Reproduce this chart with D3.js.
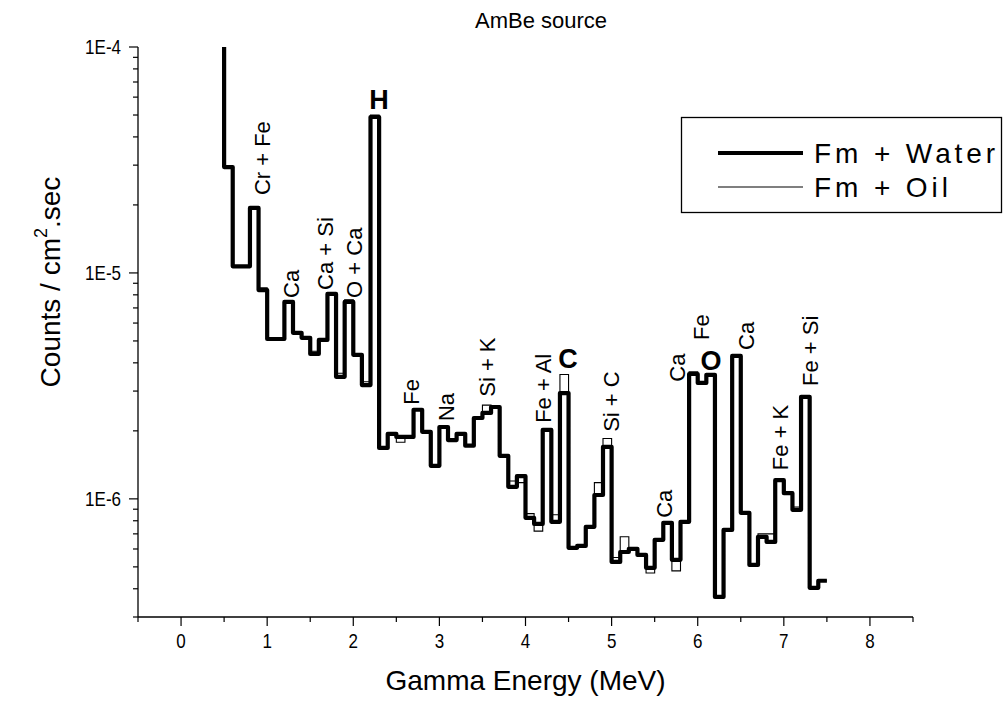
<!DOCTYPE html>
<html><head><meta charset="utf-8">
<script src="https://cdn.jsdelivr.net/npm/d3@7"></script>
<style>
body{margin:0;background:#fff;}
text{font-family:"Liberation Sans",Arial,sans-serif;fill:#000;}
</style></head>
<body><svg id="chart" width="1003" height="711"></svg>
<script>
// ---- data ----
const binStart = [0.4,0.5,0.6,0.7,0.8,0.9,1.0,1.1,1.2,1.3,1.4,1.5,1.6,1.7,1.8,1.9,2.0,2.1,2.2,2.3,2.4,2.5,2.6,2.7,2.8,2.9,3.0,3.1,3.2,3.3,3.4,3.5,3.6,3.7,3.8,3.9,4.0,4.1,4.2,4.3,4.4,4.5,4.6,4.7,4.8,4.9,5.0,5.1,5.2,5.3,5.4,5.5,5.6,5.7,5.8,5.9,6.0,6.1,6.2,6.3,6.4,6.5,6.6,6.7,6.8,6.9,7.0,7.1,7.2,7.3,7.4];
const lastEdge = 7.5;
const water = [1.5e-4,2.94e-5,1.07e-5,1.07e-5,1.94e-5,8.4e-6,5.1e-6,5.1e-6,7.44e-6,5.43e-6,5.16e-6,4.38e-6,5.05e-6,8.07e-6,3.47e-6,7.44e-6,4.34e-6,3.19e-6,4.9e-5,1.68e-6,1.94e-6,1.88e-6,1.88e-6,2.48e-6,1.98e-6,1.40e-6,2.08e-6,1.82e-6,1.94e-6,1.72e-6,2.28e-6,2.40e-6,2.55e-6,1.55e-6,1.13e-6,1.26e-6,8.24e-7,7.75e-7,2.02e-6,7.91e-7,2.94e-6,6.07e-7,6.19e-7,7.52e-7,1.04e-6,1.70e-6,5.26e-7,5.82e-7,6.01e-7,5.65e-7,4.95e-7,6.59e-7,7.83e-7,5.37e-7,7.91e-7,3.57e-6,3.26e-6,3.54e-6,3.68e-7,7.29e-7,4.29e-6,8.67e-7,5.10e-7,6.79e-7,6.45e-7,1.21e-6,1.06e-6,8.94e-7,2.83e-6,4.04e-7,4.34e-7];
const oil = [1.5e-4,2.94e-5,1.07e-5,1.07e-5,1.94e-5,8.6e-6,5.15e-6,5.1e-6,7.44e-6,5.43e-6,5.16e-6,4.5e-6,5.05e-6,8.15e-6,3.6e-6,7.6e-6,4.34e-6,3.3e-6,5.0e-5,1.70e-6,1.94e-6,1.78e-6,1.88e-6,2.48e-6,1.98e-6,1.40e-6,2.08e-6,1.82e-6,1.94e-6,1.72e-6,2.28e-6,2.6e-6,2.55e-6,1.55e-6,1.2e-6,1.18e-6,8.6e-7,7.2e-7,2.02e-6,8.5e-7,3.55e-6,6.1e-7,6.19e-7,7.52e-7,1.18e-6,1.85e-6,5.5e-7,6.8e-7,6.01e-7,5.65e-7,4.7e-7,6.59e-7,7.83e-7,4.8e-7,8.0e-7,3.65e-6,3.26e-6,3.54e-6,3.68e-7,7.29e-7,4.29e-6,8.67e-7,5.10e-7,7.0e-7,7.0e-7,1.21e-6,1.06e-6,9.2e-7,2.83e-6,4.04e-7,4.34e-7];
const seriesNames = ["Fm + Water","Fm + Oil"];
const xTicks = [0,1,2,3,4,5,6,7,8];
const yMajorTicks = [1e-6,1e-5,1e-4];
const yTickLabels = ["1E-6","1E-5","1E-4"];
// element annotations (anchor energy / count level)
const peakLabels = [
  {t:"Cr + Fe", e:1.033, v:2.21e-5},
  {t:"Ca", e:1.37, v:7.75e-6},
  {t:"Ca + Si", e:1.76, v:8.41e-6},
  {t:"O + Ca", e:2.10, v:7.75e-6},
  {t:"Fe", e:2.763, v:2.61e-6},
  {t:"Na", e:3.17, v:2.21e-6},
  {t:"Si + K", e:3.646, v:2.83e-6},
  {t:"Fe + Al", e:4.296, v:2.17e-6},
  {t:"Si + C", e:5.08, v:1.98e-6},
  {t:"Ca", e:5.70, v:8.24e-7},
  {t:"Ca", e:5.852, v:3.3e-6},
  {t:"Fe", e:6.131, v:5.05e-6},
  {t:"Ca", e:6.653, v:4.56e-6},
  {t:"Fe + K", e:7.049, v:1.34e-6},
  {t:"Fe + Si", e:7.397, v:3.16e-6}
];
const boldLabels = [
  {t:"H", e:2.30, v:5.3e-5},
  {t:"C", e:4.494, v:3.8e-6},
  {t:"O", e:6.154, v:3.7e-6}
];

// ---- layout ----
const svg = d3.select("#chart");
const pL = 138, pR = 913, pT = 47, pB = 617;
const x = d3.scaleLinear().domain([-0.5, 8.5]).range([pL, pR]);
const y = d3.scaleLog().domain([3e-7, 1e-4]).range([pB, pT]);

svg.append("defs").append("clipPath").attr("id","clip")
  .append("rect").attr("x",pL).attr("y",pT).attr("width",pR-pL).attr("height",pB-pT);

// title
svg.append("text").attr("x",541).attr("y",28).attr("text-anchor","middle")
  .attr("font-size",22).text("AmBe source");

// x axis
const xMinor = d3.range(-0.5, 8.6, 1);
const gx = svg.append("g").attr("transform",`translate(0,${pB})`);
gx.append("line").attr("x1",pL).attr("x2",pR).attr("stroke","#000").attr("stroke-width",1.3);
gx.selectAll(".xmaj").data(xTicks).join("line")
  .attr("x1",d=>x(d)).attr("x2",d=>x(d)).attr("y1",0).attr("y2",9).attr("stroke","#000").attr("stroke-width",1.2);
gx.selectAll(".xmin").data(xMinor).join("line")
  .attr("x1",d=>x(d)).attr("x2",d=>x(d)).attr("y1",0).attr("y2",5).attr("stroke","#000").attr("stroke-width",1.2);
gx.selectAll(".xl").data(xTicks).join("text")
  .attr("transform",d=>`translate(${x(d)},31) scale(0.85,1)`).attr("text-anchor","middle").attr("font-size",20)
  .text(d=>d);

// y axis
const yMinor = [];
for (const m of [1e-7,1e-6,1e-5]) for (let k=2;k<=9;k++){ const v=k*m; if (v>=3e-7-1e-12 && v<1e-4) yMinor.push(v); }
const gy = svg.append("g").attr("transform",`translate(${pL},0)`);
gy.append("line").attr("y1",pT).attr("y2",pB).attr("stroke","#000").attr("stroke-width",1.3);
gy.selectAll(".ymaj").data(yMajorTicks).join("line")
  .attr("x1",-9).attr("x2",0).attr("y1",d=>y(d)).attr("y2",d=>y(d)).attr("stroke","#000").attr("stroke-width",1.2);
gy.selectAll(".ymin").data(yMinor).join("line")
  .attr("x1",-5).attr("x2",0).attr("y1",d=>y(d)).attr("y2",d=>y(d)).attr("stroke","#000").attr("stroke-width",1.2);
gy.selectAll(".yl").data(yMajorTicks).join("text")
  .attr("transform",d=>`translate(-17,${y(d)+7}) scale(0.85,1)`).attr("text-anchor","end").attr("font-size",20)
  .text((d,i)=>yTickLabels[i]);

// axis titles
svg.append("text").attr("x",(pL+pR)/2).attr("y",690).attr("text-anchor","middle")
  .attr("font-size",28).text("Gamma Energy (MeV)");
const yt = svg.append("text").attr("transform","translate(60,282) rotate(-90)")
  .attr("text-anchor","middle").attr("font-size",28);
yt.append("tspan").text("Counts / cm");
yt.append("tspan").attr("dy",-13).attr("font-size",18).text("2");
yt.append("tspan").attr("dy",13).text(".sec");

// data lines
function pts(vals){ const p = binStart.map((e,i)=>[e, vals[i]]); p.push([lastEdge, vals[vals.length-1]]); return p; }
const line = d3.line().x(d=>x(d[0])).y(d=>y(d[1])).curve(d3.curveStepAfter);
const plot = svg.append("g").attr("clip-path","url(#clip)");
plot.append("path").attr("d",line(pts(water))).attr("fill","none").attr("stroke","#000")
  .attr("stroke-width",4.2).attr("stroke-linejoin","round");
plot.append("path").attr("d",line(pts(oil))).attr("fill","none").attr("stroke","#000")
  .attr("stroke-width",1.1);

// peak labels
svg.selectAll(".pl").data(peakLabels).join("text")
  .attr("transform",d=>`translate(${x(d.e)},${y(d.v)}) rotate(-90)`)
  .attr("font-size",22).text(d=>d.t);
svg.selectAll(".bl").data(boldLabels).join("text")
  .attr("x",d=>x(d.e)).attr("y",d=>y(d.v)).attr("text-anchor","middle")
  .attr("font-size",27).attr("font-weight","bold").text(d=>d.t);

// legend
const lg = svg.append("g");
lg.append("rect").attr("x",681.5).attr("y",117.5).attr("width",320).attr("height",95)
  .attr("fill","#fff").attr("stroke","#000").attr("stroke-width",1.3);
const lw = [4.2, 1.1];
seriesNames.forEach((n,i)=>{
  const yy = 153 + i*34;
  lg.append("line").attr("x1",718).attr("x2",803).attr("y1",yy).attr("y2",yy)
    .attr("stroke","#000").attr("stroke-width",lw[i]);
  lg.append("text").attr("x",814).attr("y",yy+10).attr("font-size",28).attr("letter-spacing",3.9).text(n);
});
</script></body></html>
